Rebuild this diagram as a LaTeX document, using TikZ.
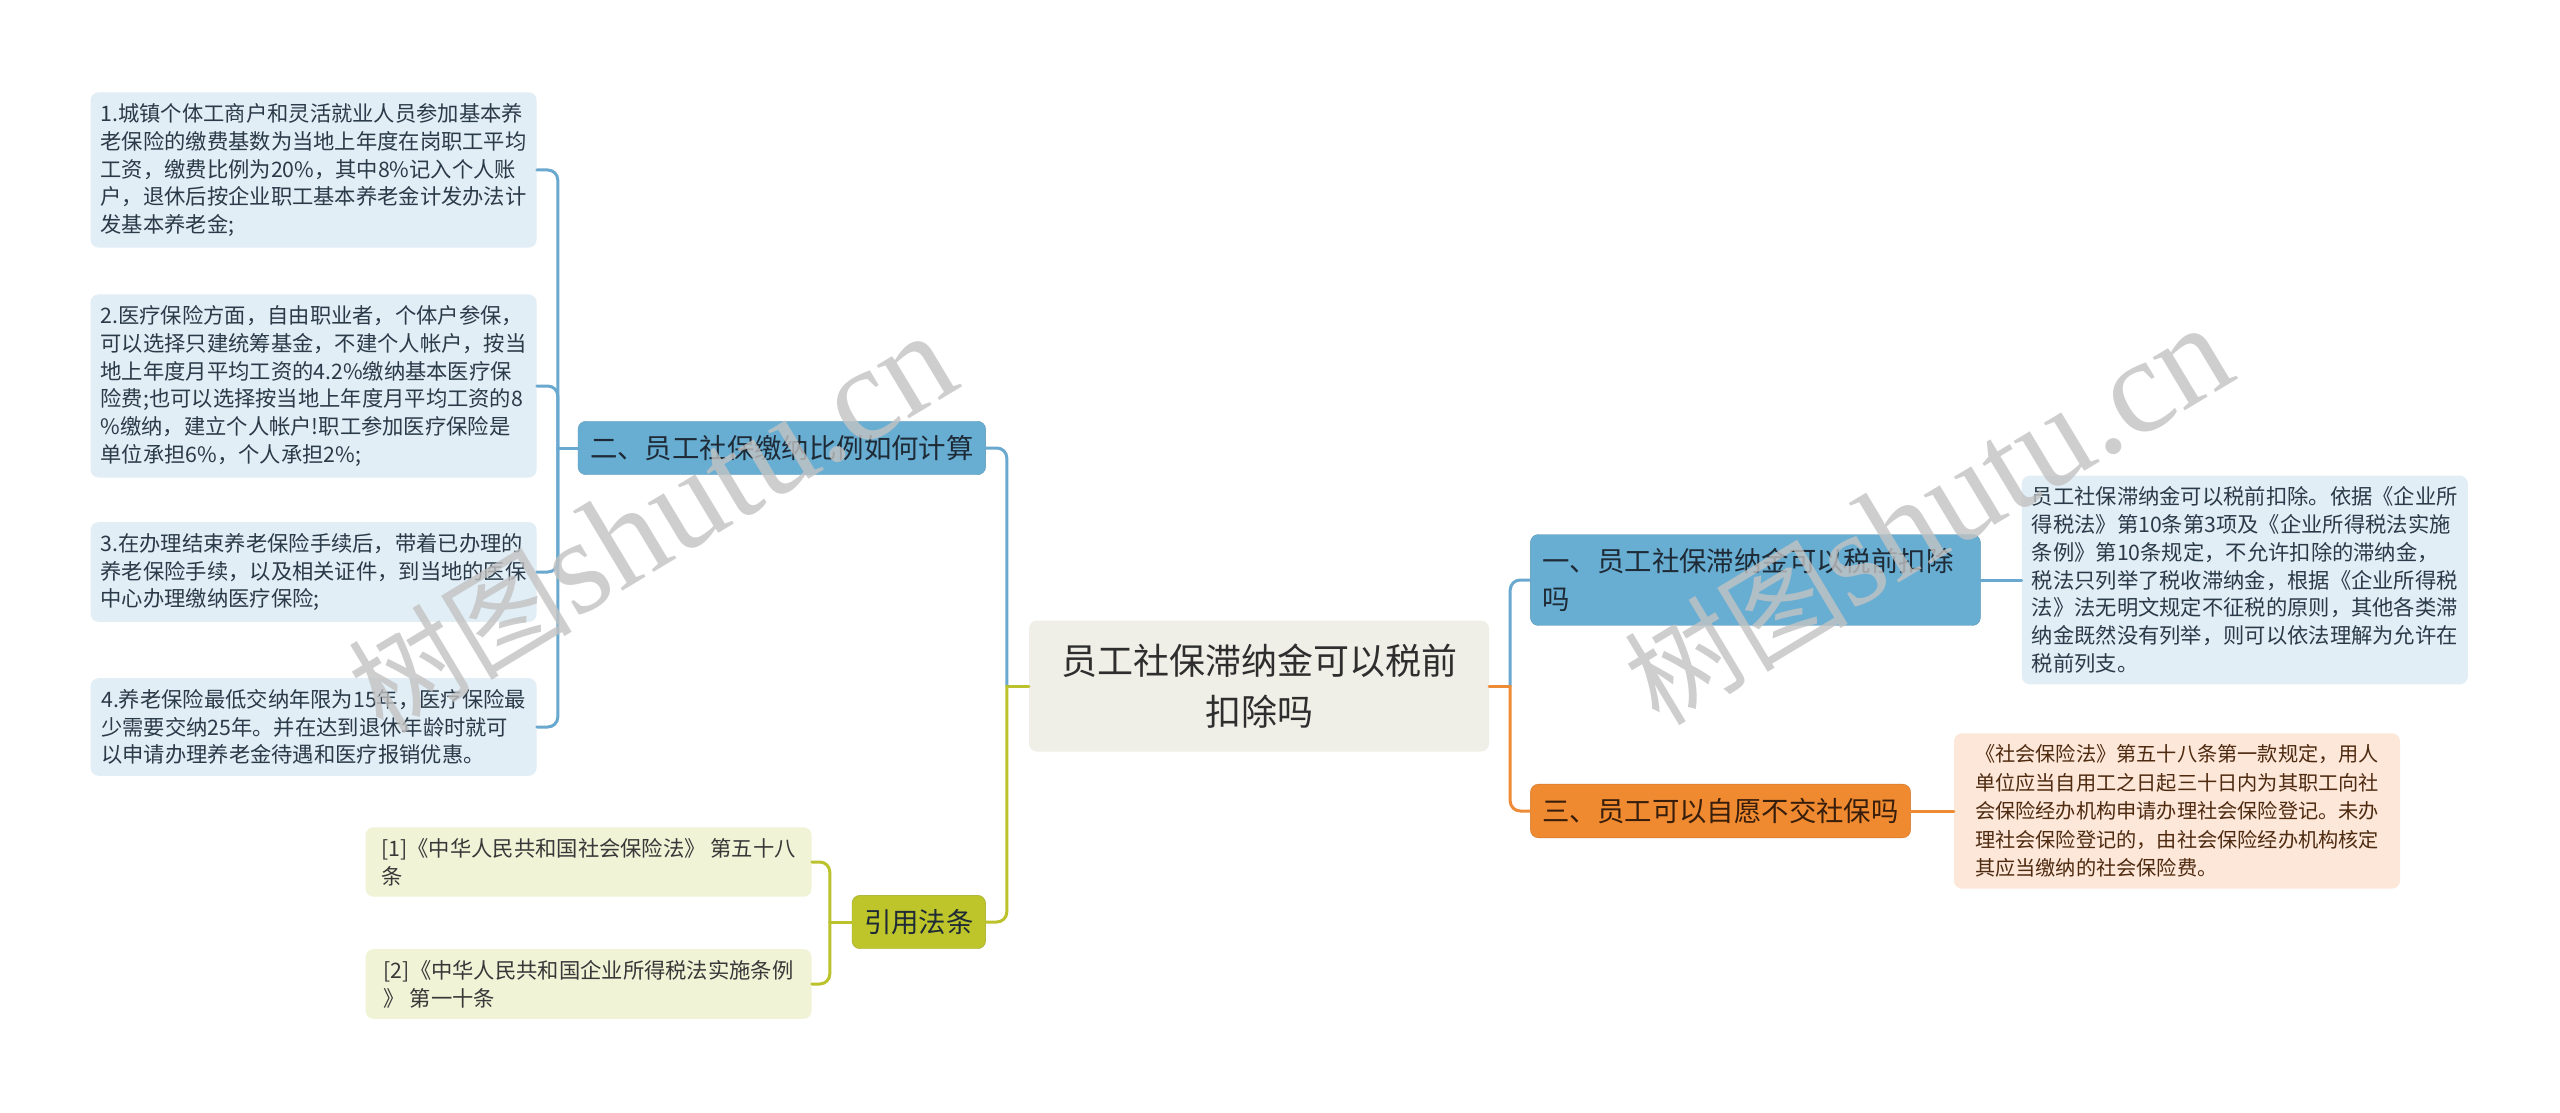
\documentclass[tikz,border=0pt]{standalone}
\usepackage{fontspec}
\setmainfont{Noto Sans CJK SC}
\newfontfamily\wmlatin{Liberation Serif}
\usetikzlibrary{
  positioning
}
\definecolor{rootfill}{HTML}{EFEFE7}
\definecolor{bluebranch}{HTML}{68AED3}
\definecolor{blueleaf}{HTML}{E1EEF6}
\definecolor{bluelink}{HTML}{6AA9CF}
\definecolor{olivebranch}{HTML}{BEC52A}
\definecolor{oliveleaf}{HTML}{F1F3D7}
\definecolor{olivelink}{HTML}{BBC22C}
\definecolor{orangebranch}{HTML}{F08A31}
\definecolor{orangeleaf}{HTML}{FCE7D8}
\definecolor{orangelink}{HTML}{EE8B36}
\definecolor{leaftext}{HTML}{2B3A48}
\definecolor{branchtext}{HTML}{1E2A35}
\definecolor{browntext}{HTML}{4E2A10}
\tikzset{
  root box/.style={
    rectangle, rounded corners=8pt,
    fill=rootfill, text=black!82,
    minimum width=460pt, minimum height=131pt,
    align=center,
    font=\fontsize{36}{51}\selectfont
  },
  branch box/.style={
    rectangle, rounded corners=8pt,
    inner xsep=12pt, inner ysep=14pt,
    text=branchtext, align=left,
    font=\fontsize{27.4}{37.6}\selectfont
  },
  leaf box/.style={
    rectangle, rounded corners=8pt,
    inner xsep=10pt, inner ysep=11pt,
    minimum width=446pt,
    text=leaftext, align=left,
    font=\fontsize{21.3}{27.8}\selectfont
  },
  link/.style={
    line width=3pt, line cap=round, rounded corners=10pt
  },
  watermark/.style={
    text=black!24, text opacity=0.8, rotate=31,
    font=\fontsize{112}{112}\selectfont
  },
}

\begin{document}
\begin{tikzpicture}[x=1pt, y=-1pt]

  \fill[white] (0,0) rectangle (2560,1113);
  \useasboundingbox (0,0) rectangle (2560,1113);

  \node[root box] (root) at (1259,686) {员工社保滞纳金可以税前\\扣除吗};

  % left branches
  \node[branch box, fill=bluebranch, draw=bluebranch!85!black, thin,
    left=43pt of root, yshift=238pt] (ratio) {二、员工社保缴纳比例如何计算};
  \node[branch box, fill=olivebranch, draw=olivebranch!85!black, thin,
    left=43pt of root, yshift=-236pt] (cite) {引用法条};

  % right branches
  \node[branch box, fill=bluebranch, draw=bluebranch!85!black, thin,
    text width=426pt, right=41pt of root, yshift=106pt]
    (latefee) {一、员工社保滞纳金可以税前扣除\\吗};
  \node[branch box, fill=orangebranch, draw=orangebranch!85!black, thin,
    text=browntext!70!black, right=41pt of root, yshift=-125pt]
    (optout) {三、员工可以自愿不交社保吗};

  % leaves of ratio
  \node[leaf box, fill=blueleaf, left=41pt of ratio, yshift=278pt] (pension)
    {1.城镇个体工商户和灵活就业人员参加基本养\\老保险的缴费基数为当地上年度在岗职工平均\\工资，缴费比例为20\%，其中8\%记入个人账\\户，退休后按企业职工基本养老金计发办法计\\发基本养老金;};
  \node[leaf box, fill=blueleaf, left=41pt of ratio, yshift=62pt] (medical)
    {2.医疗保险方面，自由职业者，个体户参保，\\可以选择只建统筹基金，不建个人帐户，按当\\地上年度月平均工资的4.2\%缴纳基本医疗保\\险费;也可以选择按当地上年度月平均工资的8\\\%缴纳，建立个人帐户!职工参加医疗保险是\\单位承担6\%，个人承担2\%;};
  \node[leaf box, fill=blueleaf, left=41pt of ratio, yshift=-124pt] (handover)
    {3.在办理结束养老保险手续后，带着已办理的\\养老保险手续，以及相关证件，到当地的医保\\中心办理缴纳医疗保险;};
  \node[leaf box, fill=blueleaf, left=41pt of ratio, yshift=-279pt] (minimum)
    {4.养老保险最低交纳年限为15年，医疗保险最\\少需要交纳25年。并在达到退休年龄时就可\\以申请办理养老金待遇和医疗报销优惠。};

  % leaves of cite
  \node[leaf box, fill=oliveleaf, text=black!78, left=40pt of cite, yshift=60pt]
    (socins) {[1]《中华人民共和国社会保险法》 第五十八\\条};
  \node[leaf box, fill=oliveleaf, text=black!78, left=40pt of cite, yshift=-62pt]
    (taxreg) {[2]《中华人民共和国企业所得税法实施条例\\》 第一十条};

  % leaves on the right
  \node[leaf box, fill=blueleaf, right=41pt of latefee] (feetext)
    {员工社保滞纳金可以税前扣除。依据《企业所\\得税法》第10条第3项及《企业所得税法实施\\条例》第10条规定，不允许扣除的滞纳金，\\税法只列举了税收滞纳金，根据《企业所得税\\法》法无明文规定不征税的原则，其他各类滞\\纳金既然没有列举，则可以依法理解为允许在\\税前列支。};
  \node[leaf box, fill=orangeleaf, text=browntext, right=43pt of optout,
    font=\fontsize{20.2}{28.6}\selectfont] (regtext)
    {《社会保险法》第五十八条第一款规定，用人\\单位应当自用工之日起三十日内为其职工向社\\会保险经办机构申请办理社会保险登记。未办\\理社会保险登记的，由社会保险经办机构核定\\其应当缴纳的社会保险费。};

  % trunks
  \coordinate[left=22pt of root] (ltrunk);
  \coordinate[right=21pt of root] (rtrunk);
  \coordinate[left=20pt of ratio] (ratiotrunk);
  \coordinate[left=22pt of cite] (citetrunk);

  \draw[link, draw=olivelink] (root.west) -- (ltrunk);
  \draw[link, draw=bluelink] (ltrunk) |- (ratio.east);
  \draw[link, draw=olivelink] (ltrunk) |- (cite.east);

  \draw[link, draw=orangelink] (root.east) -- (rtrunk);
  \draw[link, draw=bluelink] (rtrunk) |- (latefee.west);
  \draw[link, draw=orangelink] (rtrunk) |- (optout.west);

  \draw[link, draw=bluelink] (ratio.west) -- (ratiotrunk);
  \draw[link, draw=bluelink] (ratiotrunk) |- (pension.east);
  \draw[link, draw=bluelink] (ratiotrunk) |- (medical.east);
  \draw[link, draw=bluelink] (ratiotrunk) |- (handover.east);
  \draw[link, draw=bluelink] (ratiotrunk) |- (minimum.east);

  \draw[link, draw=olivelink] (cite.west) -- (citetrunk);
  \draw[link, draw=olivelink] (citetrunk) |- (socins.east);
  \draw[link, draw=olivelink] (citetrunk) |- (taxreg.east);

  \draw[link, draw=bluelink] (latefee.east) -- (feetext.west);
  \draw[link, draw=orangelink] (optout.east) -- (regtext.west);

  % watermarks
  \node[watermark] (wmleft) at (652,524)
    {树图{\fontsize{135}{135}\wmlatin shutu.cn}};
  \node[watermark] (wmright) at (1928,516)
    {树图{\fontsize{135}{135}\wmlatin shutu.cn}};

\end{tikzpicture}
\end{document}
